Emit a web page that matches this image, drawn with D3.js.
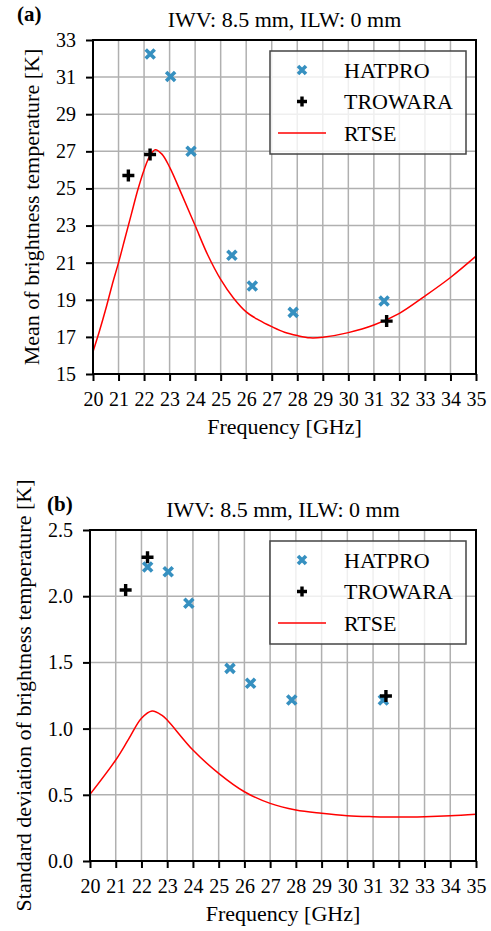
<!DOCTYPE html>
<html>
<head>
<meta charset="utf-8">
<script src="https://cdn.jsdelivr.net/npm/d3@7"></script>
<style>
  body { margin: 0; background: #fff; }
  text { font-family: "Liberation Serif", "Times New Roman", serif; fill: #000; }
</style>
</head>
<body>
<div class="canvas"></div>
<script>
// HATPRO channel frequencies [GHz]
const hatproFreq = [22.24, 23.04, 23.84, 25.44, 26.24, 27.84, 31.4];
const hatproMean = [32.25, 31.03, 27.0, 21.4, 19.74, 18.32, 18.93];
const hatproStd = [2.22, 2.185, 1.946, 1.455, 1.342, 1.216, 1.216];

// TROWARA channels
const trowaraFreq = [21.385, 22.235, 31.5];
const trowaraMean = [25.7, 26.83, 17.85];
const trowaraStd = [2.047, 2.294, 1.246];

// RTSE simulation
const rtseMeanFreq = [20.0, 20.25, 20.5, 20.75, 21.0, 21.25, 21.5, 21.75, 22.0, 22.24, 22.44, 22.7, 23.0, 23.5, 24.0, 24.5, 25.0, 25.5, 26.0, 26.5, 27.0, 27.5, 28.0, 28.5, 29.0, 30.0, 31.0, 32.0, 33.0, 34.0, 35.0];
const rtseMean = [16.2, 17.3, 18.5, 19.8, 21.0, 22.3, 23.6, 24.9, 26.0, 26.8, 27.09, 26.85, 26.15, 24.6, 23.0, 21.4, 20.1, 19.1, 18.35, 17.9, 17.55, 17.25, 17.07, 16.95, 16.98, 17.23, 17.64, 18.27, 19.2, 20.2, 21.35];
const rtseStdFreq = [20, 21, 21.5, 22, 22.41, 22.8, 23, 24, 25, 26, 27, 28, 29, 30, 31, 32, 33, 34, 35];
const rtseStd = [0.503, 0.763, 0.92, 1.078, 1.133, 1.1, 1.065, 0.838, 0.662, 0.523, 0.435, 0.385, 0.36, 0.342, 0.335, 0.332, 0.335, 0.342, 0.353];

// axis ticks
const freqTicks = d3.range(20, 36, 1);
const meanTicks = [15, 17, 19, 21, 23, 25, 27, 29, 31, 33];
const stdTicks = [0.0, 0.5, 1.0, 1.5, 2.0, 2.5];

const legendNames = ['HATPRO', 'TROWARA', 'RTSE'];
const hatproColor = '#3690c0';

const svg = d3.select('.canvas').append('svg')
    .attr('width', 491)
    .attr('height', 931);

const panels = [
    { tag: '(a)', tagX: 17, left: 93, right: 476, top: 40, bottom: 374,
      yDomain: [15, 33], yTicks: meanTicks, yFmt: d3.format('d'), ylabX: 39,
      ylabel: 'Mean of brightness temperature [K]',
      hatpro: hatproMean, trowara: trowaraMean, rtseF: rtseMeanFreq, rtse: rtseMean },
    { tag: '(b)', tagX: 47, left: 90, right: 476, top: 530, bottom: 861,
      yDomain: [0, 2.5], yTicks: stdTicks, yFmt: d3.format('.1f'), ylabX: 31,
      ylabel: 'Standard deviation of brightness temperature [K]',
      hatpro: hatproStd, trowara: trowaraStd, rtseF: rtseStdFreq, rtse: rtseStd }
];

const xMarker = (g, s) => g.append('path')
    .attr('d', `M${-s},${-s}L${s},${s}M${-s},${s}L${s},${-s}`)
    .attr('stroke', hatproColor).attr('stroke-width', 3.6).attr('fill', 'none');

const plusMarker = (g, s) => g.append('path')
    .attr('d', `M${-s},0L${s},0M0,${-s}L0,${s}`)
    .attr('stroke', '#000').attr('stroke-width', 3.4).attr('fill', 'none');

panels.forEach(p => {
    const x = d3.scaleLinear().domain([20, 35]).range([p.left, p.right]);
    const y = d3.scaleLinear().domain(p.yDomain).range([p.bottom, p.top]);
    const g = svg.append('g');
    const cx = (p.left + p.right) / 2;

    // grid
    g.append('g').selectAll('line').data(freqTicks).join('line')
        .attr('x1', d => x(d)).attr('x2', d => x(d))
        .attr('y1', p.top).attr('y2', p.bottom)
        .attr('stroke', '#b0b0b0').attr('stroke-width', 1.5);
    g.append('g').selectAll('line').data(p.yTicks).join('line')
        .attr('x1', p.left).attr('x2', p.right)
        .attr('y1', d => y(d)).attr('y2', d => y(d))
        .attr('stroke', '#b0b0b0').attr('stroke-width', 1.5);

    // rtse curve
    const line = d3.line()
        .x(d => x(d[0]))
        .y(d => y(d[1]))
        .curve(d3.curveCatmullRom.alpha(0.5));
    g.append('path')
        .datum(d3.zip(p.rtseF, p.rtse))
        .attr('d', line)
        .attr('fill', 'none')
        .attr('stroke', '#ff0000')
        .attr('stroke-width', 1.5);

    // markers
    d3.zip(hatproFreq, p.hatpro).forEach(d => {
        xMarker(g.append('g').attr('transform', `translate(${x(d[0])},${y(d[1])})`), 4.5);
    });
    d3.zip(trowaraFreq, p.trowara).forEach(d => {
        plusMarker(g.append('g').attr('transform', `translate(${x(d[0])},${y(d[1])})`), 6);
    });

    // frame
    g.append('rect')
        .attr('x', p.left).attr('y', p.top)
        .attr('width', p.right - p.left).attr('height', p.bottom - p.top)
        .attr('fill', 'none').attr('stroke', '#000').attr('stroke-width', 2);

    // axes
    const xAxis = g.append('g')
        .attr('transform', `translate(0,${p.bottom})`)
        .call(d3.axisBottom(x).tickValues(freqTicks).tickSize(7).tickPadding(11).tickSizeOuter(0));
    const yAxis = g.append('g')
        .attr('transform', `translate(${p.left},0)`)
        .call(d3.axisLeft(y).tickValues(p.yTicks).tickFormat(p.yFmt).tickSize(7).tickPadding(10).tickSizeOuter(0));
    [xAxis, yAxis].forEach(a => {
        a.select('.domain').remove();
        a.selectAll('line').attr('stroke', '#000').attr('stroke-width', 2);
        a.selectAll('text').style('font-family', '"Liberation Serif", serif').style('font-size', '20px').attr('fill', '#000');
    });

    // labels
    g.append('text')
        .attr('x', cx).attr('y', p.bottom + 60)
        .attr('text-anchor', 'middle').style('font-size', '22px')
        .text('Frequency [GHz]');
    g.append('text')
        .attr('transform', `translate(${p.ylabX},${(p.top + p.bottom) / 2}) rotate(-90)`)
        .attr('text-anchor', 'middle').style('font-size', '22px')
        .text(p.ylabel);
    g.append('text')
        .attr('x', cx).attr('y', p.top - 13)
        .attr('text-anchor', 'middle').style('font-size', '22px')
        .text('IWV: 8.5 mm, ILW: 0 mm');
    g.append('text')
        .attr('x', p.tagX).attr('y', p.top - 19)
        .style('font-size', '21px').style('font-weight', 'bold')
        .text(p.tag);

    // legend
    const lg = g.append('g').attr('transform', `translate(${p.right - 206},${p.top + 11})`);
    lg.append('rect')
        .attr('width', 196).attr('height', 103)
        .attr('fill', '#fff').attr('fill-opacity', 0.8)
        .attr('stroke', '#444').attr('stroke-width', 1.5);
    const rows = [19, 50.5, 82];
    xMarker(lg.append('g').attr('transform', `translate(32,${rows[0]})`), 4);
    plusMarker(lg.append('g').attr('transform', `translate(32,${rows[1]})`), 5);
    lg.append('line')
        .attr('x1', 8).attr('x2', 56).attr('y1', rows[2]).attr('y2', rows[2])
        .attr('stroke', '#ff0000').attr('stroke-width', 1.5);
    lg.selectAll('text.lab').data(legendNames).join('text')
        .attr('class', 'lab')
        .attr('x', 74).attr('y', (d, i) => rows[i])
        .attr('dy', '0.35em')
        .style('font-size', '22px')
        .text(d => d);
});
</script>
</body>
</html>
